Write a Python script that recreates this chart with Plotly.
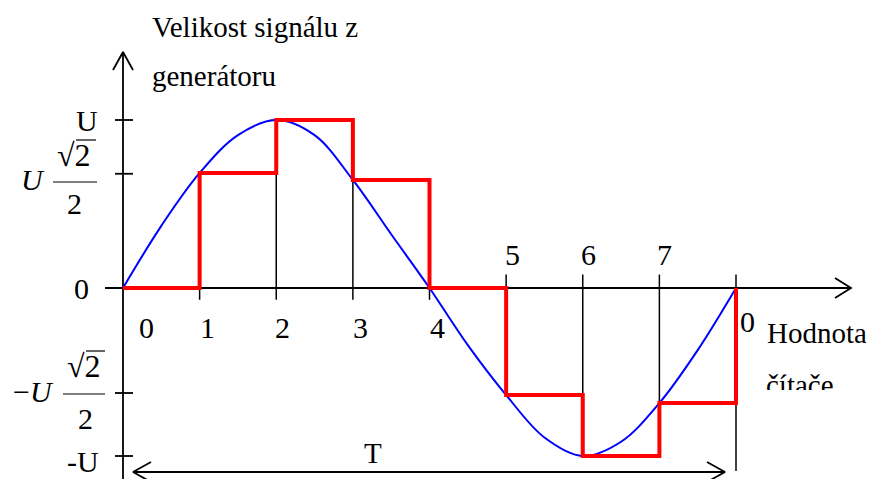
import plotly.graph_objects as go

# counter steps over one period T
counter = [0, 1, 2, 3, 4, 5, 6, 7, 8]
# red staircase (held output for every counter value), last point closes at 0
step_levels = [0, 0.685, 1.0, 0.643, 0, -0.637, -1.0, -0.685, 0]

# blue generator signal, read every half step
sine_x = [0, 0.5, 1, 1.5, 2, 2.5, 3, 3.5, 4, 4.5, 5, 5.5, 6, 6.5, 7, 7.5, 8]
sine_y = [0, 0.37, 0.685, 0.91, 1.0, 0.91, 0.643, 0.32, 0, -0.34, -0.637, -0.89, -1.0, -0.915, -0.685, -0.37, 0]

# thin black guide lines at the counter steps
guide_x = [1, 2, 3, 4, 5, 6, 7, 8]
guide_top = [0, 1.0, 0.643, 0, 0.08, 0.08, 0.08, 0.08]
guide_bottom = [-0.07, -0.07, -0.07, -0.07, -0.637, -1.0, -0.685, -1.09]

# levels marked on the vertical axis
level_y = [1.0, 0.68, -0.625, -1.0]

tick_labels = ['0', '1', '2', '3', '4', '5', '6', '7', '0']

# the page body has an 8px margin, so the figure sits at (8, 8)
OFF = 8
W, H = 874 - OFF, 479 - OFF
X0, SX = 123, 76.625   # page pixel of counter 0, pixels per step
Y0, SY = 288, 168      # page pixel of level 0, pixels per U


def px(x):
    return (x - X0) / SX


def py(y):
    return (Y0 - y) / SY


SERIF = "Liberation Serif, Times New Roman, serif"
fig = go.Figure()

# guide lines
gx, gy = [], []
for x, t, b in zip(guide_x, guide_top, guide_bottom):
    gx += [x, x, None]
    gy += [t, b, None]
fig.add_trace(go.Scatter(x=gx, y=gy, mode="lines", line=dict(color="black", width=1.5)))

# level ticks on the vertical axis
lx, ly = [], []
for y in level_y:
    lx += [px(115), px(133), None]
    ly += [y, y, None]
fig.add_trace(go.Scatter(x=lx, y=ly, mode="lines", line=dict(color="black", width=1.8)))

# axes with open arrow heads
ax_x = [0, 0, None, px(113), 0, px(133), None,
        px(105), px(851), None, px(835), px(851), px(835), None,
        px(133), px(725), None, px(151), px(133), px(151), None, px(707), px(725), px(707)]
ax_y = [py(479), py(52), None, py(70), py(52), py(70), None,
        0, 0, None, py(278), 0, py(298), None,
        py(472), py(472), None, py(462), py(472), py(482), None, py(462), py(472), py(482)]
fig.add_trace(go.Scatter(x=ax_x, y=ax_y, mode="lines", line=dict(color="black", width=1.8)))

# generator signal
fig.add_trace(go.Scatter(x=sine_x, y=sine_y, mode="lines", line=dict(color="#0000ff", width=2, shape="spline")))

# staircase
fig.add_trace(go.Scatter(x=counter, y=step_levels, mode="lines", line=dict(color="#ff0000", width=4, shape="hv")))

# clipped label "čítače"
fig.add_trace(go.Scatter(x=[px(766)], y=[py(388)], mode="text", text=["čítače"], textposition="middle right",
                         textfont=dict(family=SERIF, size=29, color="black")))

fig.add_shape(type="rect", x0=px(762), x1=px(880), y0=py(390), y1=py(440), fillcolor="white",
              line=dict(width=0), layer="above")

# fraction bars and radical overbars
for x0, x1, y in [(53, 97, 182), (63, 105, 394), (76, 96, 140), (86, 105, 351)]:
    fig.add_shape(type="line", x0=px(x0), x1=px(x1), y0=py(y), y1=py(y), line=dict(color="black", width=1.2))


def label(text, x, y, size=30, xanchor="center"):
    fig.add_annotation(x=px(x), y=py(y), text=text, showarrow=False, xanchor=xanchor, yanchor="middle",
                       font=dict(family=SERIF, size=size, color="black"))


label("Velikost signálu z", 150, 27, 29, "left")
label("generátoru", 150, 76, 29, "left")
label("Hodnota", 765, 333, 29, "left")
label("T", 373, 453, 29)

# vertical axis labels
label("U", 100, 120, 30, "right")
label("0", 91, 288, 30, "right")
label("-U", 101, 461, 30, "right")
label("<i>U</i>", 33, 179)
label("√2", 74, 155, 32)
label("2", 74, 203)
label("−<i>U</i>", 33, 391)
label("√2", 84, 366, 32)
label("2", 85, 418)

# counter labels
tick_px = [(146, 327), (207, 327), (282, 327), (360, 327), (437, 327),
           (512, 254), (588, 254), (664, 254), (747, 321)]
for t, (x, y) in zip(tick_labels, tick_px):
    label(t, x, y)

fig.update_layout(
    width=W, height=H,
    margin=dict(l=0, r=0, t=0, b=0),
    paper_bgcolor="white", plot_bgcolor="white",
    showlegend=False,
    xaxis=dict(range=[px(OFF), px(OFF + W)], visible=False),
    yaxis=dict(range=[py(OFF + H), py(OFF)], visible=False),
)

fig.write_html("out.html")
